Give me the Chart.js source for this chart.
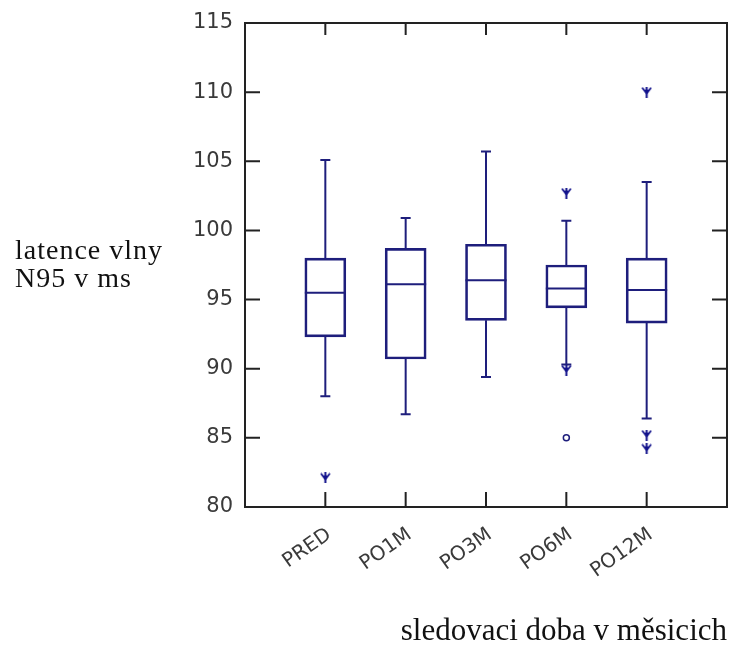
<!DOCTYPE html>
<html>
<head>
<meta charset="utf-8">
<script src="https://cdn.jsdelivr.net/npm/chart.js@4.4.1/dist/chart.umd.min.js"></script>
<style>
  html, body { margin: 0; padding: 0; background: #fff; }
  #wrap { position: relative; width: 733px; height: 651px; }
  #yTitle {
    position: absolute; left: 15px; top: 236px;
    font: 28px 'Liberation Serif', 'Times New Roman', serif;
    line-height: 28px; letter-spacing: 1px; color: #111;
  }
</style>
</head>
<body>
<div id="wrap">
  <canvas id="chart" width="733" height="651"></canvas>
  <div id="yTitle">latence vlny<br>N95 v ms</div>
</div>
<script>
// follow-up periods and box statistics (ms)
const categories = ['PRED', 'PO1M', 'PO3M', 'PO6M', 'PO12M']
const whiskerLow = [88.0, 86.7, 89.4, 90.3, 86.4]
const q1 = [92.3, 90.7, 93.5, 94.4, 93.3]
const median = [95.5, 96.1, 96.4, 95.8, 95.7]
const q3 = [98.0, 98.7, 99.0, 97.5, 98.0]
const whiskerHigh = [105.1, 100.9, 105.7, 100.7, 103.5]

// extremes (star) and outliers (circle), position = category number
const extremeCat = [1, 4, 4, 5, 5, 5]
const extremeVal = [82.1, 102.7, 89.9, 110.0, 85.2, 84.2]
const outlierCat = [4]
const outlierVal = [85.0]

const yTicks = [80, 85, 90, 95, 100, 105, 110, 115]

const boxColor = '#1e1e7c'
const markColor = '#12128c'
const axisColor = '#222'

// little "trident" marker used for extremes
const makeStar = () => {
  const c = document.createElement('canvas')
  c.width = 11
  c.height = 11
  const g = c.getContext('2d')
  g.fillStyle = markColor
  g.strokeStyle = markColor
  g.lineWidth = 1.8
  g.beginPath()
  g.moveTo(1, 1)
  g.lineTo(5.5, 6.5)
  g.lineTo(10, 1)
  g.stroke()
  g.beginPath()
  g.moveTo(2, 3)
  g.lineTo(9, 3)
  g.lineTo(5.5, 8)
  g.closePath()
  g.fill()
  g.fillRect(4.5, 0, 2, 11)
  return c
}

// whiskers, medians, frame and inward ticks
const boxPlot = {
  id: 'boxPlot',
  beforeDatasetsDraw(chart) {
    const { ctx, chartArea, scales } = chart
    const x = scales.x
    const y = scales.y
    const bars = chart.getDatasetMeta(0).data
    ctx.save()
    ctx.strokeStyle = boxColor
    ctx.lineWidth = 2
    categories.forEach((c, i) => {
      const px = x.getPixelForValue(i + 1)
      const cap = 5
      ctx.beginPath()
      ctx.moveTo(px, y.getPixelForValue(q3[i]))
      ctx.lineTo(px, y.getPixelForValue(whiskerHigh[i]))
      ctx.moveTo(px - cap, y.getPixelForValue(whiskerHigh[i]))
      ctx.lineTo(px + cap, y.getPixelForValue(whiskerHigh[i]))
      ctx.moveTo(px, y.getPixelForValue(q1[i]))
      ctx.lineTo(px, y.getPixelForValue(whiskerLow[i]))
      ctx.moveTo(px - cap, y.getPixelForValue(whiskerLow[i]))
      ctx.lineTo(px + cap, y.getPixelForValue(whiskerLow[i]))
      const half = bars[i] ? bars[i].width / 2 : 20
      ctx.moveTo(px - half, y.getPixelForValue(median[i]))
      ctx.lineTo(px + half, y.getPixelForValue(median[i]))
      ctx.stroke()
    })

    // frame
    ctx.strokeStyle = axisColor
    ctx.lineWidth = 2
    ctx.strokeRect(chartArea.left, chartArea.top, chartArea.right - chartArea.left, chartArea.bottom - chartArea.top)

    ctx.beginPath()
    yTicks.slice(1, -1).forEach(v => {
      const py = y.getPixelForValue(v)
      ctx.moveTo(chartArea.left, py)
      ctx.lineTo(chartArea.left + 15, py)
      ctx.moveTo(chartArea.right, py)
      ctx.lineTo(chartArea.right - 15, py)
    })
    categories.forEach((c, i) => {
      const px = x.getPixelForValue(i + 1)
      ctx.moveTo(px, chartArea.bottom)
      ctx.lineTo(px, chartArea.bottom - 15)
      ctx.moveTo(px, chartArea.top)
      ctx.lineTo(px, chartArea.top + 12)
    })
    ctx.stroke()
    ctx.restore()
  }
}

const ctx = document.getElementById('chart')

new Chart(ctx, {
  type: 'bar',
  data: {
    datasets: [
      {
        type: 'bar',
        data: categories.map((c, i) => ({ x: i + 1, y: [q1[i], q3[i]] })),
        backgroundColor: 'rgba(255,255,255,0)',
        borderColor: boxColor,
        borderWidth: 2,
        borderSkipped: false,
        barThickness: 41
      },
      {
        type: 'scatter',
        data: extremeCat.map((c, i) => ({ x: c, y: extremeVal[i] })),
        pointStyle: makeStar(),
        pointRadius: 5
      },
      {
        type: 'scatter',
        data: outlierCat.map((c, i) => ({ x: c, y: outlierVal[i] })),
        pointStyle: 'circle',
        pointRadius: 3,
        borderWidth: 1.5,
        borderColor: boxColor,
        backgroundColor: '#fff'
      }
    ]
  },
  options: {
    responsive: false,
    animation: false,
    layout: { padding: { top: 23, right: 5, left: 0, bottom: 0 } },
    plugins: {
      legend: { display: false },
      tooltip: { enabled: false }
    },
    scales: {
      x: {
        type: 'linear',
        min: 0,
        max: 6,
        offset: false,
        afterBuildTicks: s => { s.ticks = categories.map((c, i) => ({ value: i + 1 })) },
        afterFit: s => {
          s.height = 144
          s.paddingLeft = 0
          s.paddingRight = 0
        },
        grid: { display: false, drawTicks: false },
        border: { display: false },
        ticks: {
          autoSkip: false,
          minRotation: 35,
          maxRotation: 35,
          padding: 16,
          labelOffset: 4,
          color: '#3a3a3a',
          font: { family: 'DejaVu Sans', size: 20 },
          callback: v => categories[v - 1]
        },
        title: {
          display: true,
          text: 'sledovaci doba v měsicich',
          align: 'end',
          color: '#111',
          font: { family: 'Liberation Serif', size: 31 },
          padding: { top: 0, bottom: 1 }
        }
      },
      y: {
        min: 80,
        max: 115,
        afterBuildTicks: s => { s.ticks = yTicks.map(v => ({ value: v })) },
        afterFit: s => {
          s.width = 245
          s.paddingTop = 0
          s.paddingBottom = 0
        },
        grid: { display: false, drawTicks: false },
        border: { display: false },
        ticks: {
          padding: 12,
          color: '#3a3a3a',
          font: { family: 'DejaVu Sans', size: 21 }
        }
      }
    }
  },
  plugins: [boxPlot]
})
</script>
</body>
</html>
